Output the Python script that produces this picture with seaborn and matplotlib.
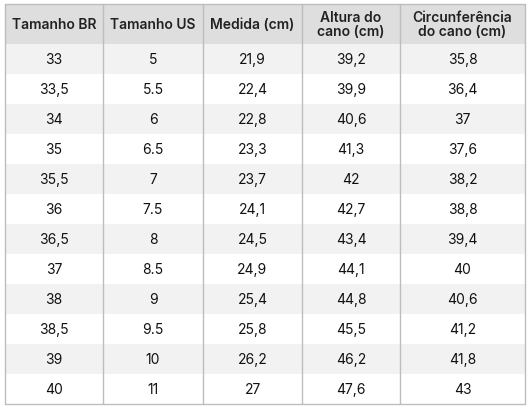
import matplotlib
matplotlib.use("Agg")
import matplotlib.pyplot as plt
import seaborn as sns
from matplotlib.patches import Rectangle

sns.set_theme(style="white")
plt.rcParams['font.family'] = ['Inter', 'DejaVu Sans']

headers = ["Tamanho BR", "Tamanho US", "Medida (cm)", "Altura do\ncano (cm)", "Circunferência\ndo cano (cm)"]
tamanho_br = ["33", "33,5", "34", "35", "35,5", "36", "36,5", "37", "38", "38,5", "39", "40"]
tamanho_us = ["5", "5.5", "6", "6.5", "7", "7.5", "8", "8.5", "9", "9.5", "10", "11"]
medida = ["21,9", "22,4", "22,8", "23,3", "23,7", "24,1", "24,5", "24,9", "25,4", "25,8", "26,2", "27"]
altura = ["39,2", "39,9", "40,6", "41,3", "42", "42,7", "43,4", "44,1", "44,8", "45,5", "46,2", "47,6"]
circ = ["35,8", "36,4", "37", "37,6", "38,2", "38,8", "39,4", "40", "40,6", "41,2", "41,8", "43"]
cols = [tamanho_br, tamanho_us, medida, altura, circ]

W, H = 530, 410
fig = plt.figure(figsize=(W/100, H/100), dpi=100)
ax = fig.add_axes([0, 0, 1, 1])
ax.set_xlim(0, W)
ax.set_ylim(H, 0)
ax.axis("off")

xs = [5, 103, 203, 302, 400, 525]
top, hdr, rowh = 5, 45, 30
line = "#bdbdbd"

ax.add_patch(Rectangle((xs[0], top), xs[-1]-xs[0], hdr-top, facecolor="#dedede", edgecolor="none"))
for r in range(len(tamanho_br)):
    y = hdr + r*rowh
    fc = "#f2f2f2" if r % 2 == 0 else "white"
    ax.add_patch(Rectangle((xs[0], y), xs[-1]-xs[0], rowh, facecolor=fc, edgecolor="none"))
bottom = hdr + len(tamanho_br)*rowh
for x in xs:
    ax.plot([x, x], [top, bottom], color=line, lw=1)
ax.plot([xs[0], xs[-1]], [top, top], color=line, lw=1)
ax.plot([xs[0], xs[-1]], [bottom, bottom], color=line, lw=1)

for c, h in enumerate(headers):
    cx = (xs[c]+xs[c+1])/2
    ax.text(cx, (top+hdr)/2, h, ha="center", va="center", fontsize=10,
            fontweight="semibold", color="#222222", linespacing=1.05)
    for r, v in enumerate(cols[c]):
        ax.text(cx, hdr + r*rowh + rowh/2, v, ha="center", va="center",
                fontsize=10, color="#111111")

fig.savefig("out.png", dpi=100, facecolor="white")
